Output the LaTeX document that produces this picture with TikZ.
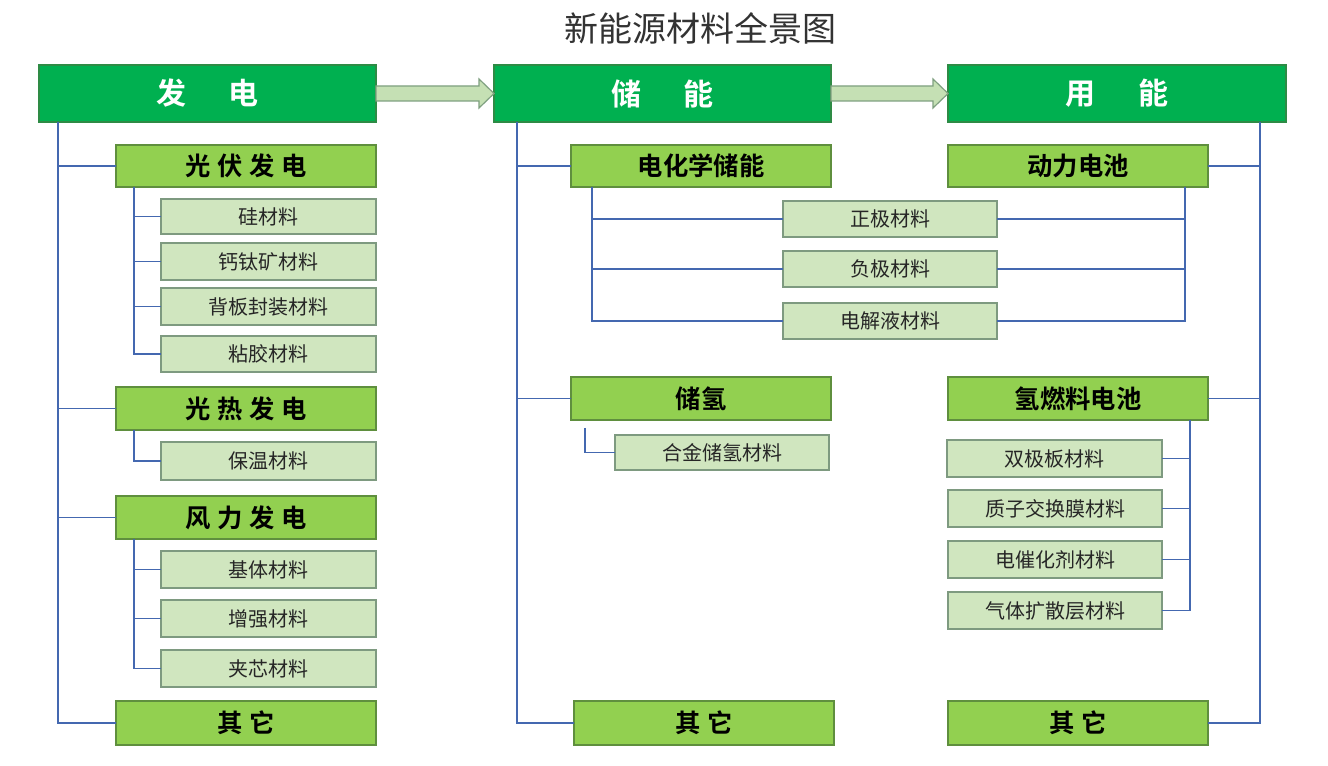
\documentclass[tikz,border=0pt]{standalone}
\usepackage{fontspec}
\setmainfont{Noto Sans CJK SC}[BoldFont={Noto Sans CJK SC Bold}]
\usetikzlibrary{calc}
\definecolor{hdrgreen}{HTML}{00B050}
\definecolor{hdrline}{HTML}{2E8B45}
\definecolor{subgreen}{HTML}{92D050}
\definecolor{subline}{HTML}{5F8F3E}
\definecolor{itemgreen}{HTML}{D0E6BF}
\definecolor{itemline}{HTML}{7E9A80}
\definecolor{connblue}{HTML}{4468B0}
\definecolor{arrowfill}{HTML}{C5E0B4}
\definecolor{arrowline}{HTML}{7FA080}
\definecolor{titlegray}{HTML}{333333}
\newcommand\mkbox[7]{%
  \node[#6, minimum width={(#4-#2)*0.75pt}, minimum height={(#5-#3)*0.75pt}]
    (#1) at ({(#2+#4)/2},{(#3+#5)/2}) {#7};}
\tikzset{
  boxbase/.style={rectangle, inner sep=0pt, outer sep=0pt, line width=0.9pt},
  hdrbox/.style={boxbase, fill=hdrgreen, draw=hdrline, text=white, font=\bfseries\fontsize{22.5pt}{24pt}\selectfont},
  subbox/.style={boxbase, fill=subgreen, draw=subline, text=black, font=\bfseries\fontsize{19pt}{21pt}\selectfont},
  itembox/.style={boxbase, fill=itemgreen, draw=itemline, text=black!85, font=\fontsize{15pt}{17pt}\selectfont},
  conn/.style={draw=connblue, line width=1.1pt},
  blockarrow/.style={fill=arrowfill, draw=arrowline, line width=0.9pt, line join=miter},
  titletext/.style={text=titlegray, font=\fontsize{25.5pt}{28pt}\selectfont}
}
\newcommand\lsp{\kern5pt}
\begin{document}
\begin{tikzpicture}[x=0.75pt,y=-0.75pt]
\useasboundingbox[fill=white] (0,0) rectangle (1328,766);

\node[titletext] (title) at (700,28) {新能源材料全景图};

% headers
\mkbox{fd}{39}{65}{376}{122}{hdrbox}{发\hspace{32pt}电}
\mkbox{cn}{494}{65}{831}{122}{hdrbox}{储\hspace{32pt}能}
\mkbox{yn}{948}{65}{1286}{122}{hdrbox}{用\hspace{32pt}能}

% block arrows
\foreach \a/\b in {fd/cn, cn/yn}{
  \draw[blockarrow] ($(\a.east)+(0,-7.5)$) -- ($(\b.west)+(-15,-7.5)$) -- ($(\b.west)+(-15,-14.5)$)
    -- (\b.west) -- ($(\b.west)+(-15,14.5)$) -- ($(\b.west)+(-15,7.5)$) -- ($(\a.east)+(0,7.5)$) -- cycle;
}

% sub headers
\mkbox{gf}{116}{145}{376}{187}{subbox}{光\lsp 伏\lsp 发\lsp 电}
\mkbox{gr}{116}{387}{376}{430}{subbox}{光\lsp 热\lsp 发\lsp 电}
\mkbox{fl}{116}{496}{376}{539}{subbox}{风\lsp 力\lsp 发\lsp 电}
\mkbox{qt1}{116}{701}{376}{745}{subbox}{其\lsp 它}
\mkbox{dh}{571}{145}{831}{187}{subbox}{电化学储能}
\mkbox{cq}{571}{377}{831}{420}{subbox}{储氢}
\mkbox{qt2}{574}{701}{834}{745}{subbox}{其\lsp 它}
\mkbox{dl}{948}{145}{1208}{187}{subbox}{动力电池}
\mkbox{rl}{948}{377}{1208}{420}{subbox}{氢燃料电池}
\mkbox{qt3}{948}{701}{1208}{745}{subbox}{其\lsp 它}

% items
\mkbox{g1}{161}{199}{376}{234}{itembox}{硅材料}
\mkbox{g2}{161}{243}{376}{280}{itembox}{钙钛矿材料}
\mkbox{g3}{161}{288}{376}{325}{itembox}{背板封装材料}
\mkbox{g4}{161}{336}{376}{372}{itembox}{粘胶材料}
\mkbox{r1}{161}{442}{376}{480}{itembox}{保温材料}
\mkbox{f1}{161}{551}{376}{588}{itembox}{基体材料}
\mkbox{f2}{161}{600}{376}{637}{itembox}{增强材料}
\mkbox{f3}{161}{650}{376}{687}{itembox}{夹芯材料}
\mkbox{d1}{783}{201}{997}{237}{itembox}{正极材料}
\mkbox{d2}{783}{251}{997}{287}{itembox}{负极材料}
\mkbox{d3}{783}{303}{997}{339}{itembox}{电解液材料}
\mkbox{c1}{615}{435}{829}{470}{itembox}{合金储氢材料}
\mkbox{h1}{947}{440}{1162}{477}{itembox}{双极板材料}
\mkbox{h2}{948}{490}{1162}{527}{itembox}{质子交换膜材料}
\mkbox{h3}{948}{541}{1162}{578}{itembox}{电催化剂材料}
\mkbox{h4}{948}{592}{1162}{629}{itembox}{气体扩散层材料}

% trunk coordinates
\coordinate (L0) at (58,122);
\coordinate (LG) at (134,187);
\coordinate (LR) at (134,430);
\coordinate (LF) at (134,539);
\coordinate (M0) at (517,122);
\coordinate (MD) at (592,187);
\coordinate (MC) at (585,428);
\coordinate (R0) at (1260,122);
\coordinate (RD) at (1185,187);
\coordinate (RH) at (1190,420);

% left column
\draw[conn] (L0) |- (qt1.west);
\foreach \n in {gf,gr,fl} \draw[conn] (L0 |- \n.west) -- (\n.west);
\draw[conn] (LG) |- (g4.west);
\foreach \n in {g1,g2,g3} \draw[conn] (LG |- \n.west) -- (\n.west);
\draw[conn] (LR) |- (r1.west);
\draw[conn] (LF) |- (f3.west);
\foreach \n in {f1,f2} \draw[conn] (LF |- \n.west) -- (\n.west);

% middle column
\draw[conn] (M0) |- (qt2.west);
\foreach \n in {dh,cq} \draw[conn] (M0 |- \n.west) -- (\n.west);
\draw[conn] (MD) |- (d3.west);
\foreach \n in {d1,d2} \draw[conn] (MD |- \n.west) -- (\n.west);
\draw[conn] (MC) |- (c1.west);

% right column
\draw[conn] (R0) |- (qt3.east);
\foreach \n in {dl,rl} \draw[conn] (R0 |- \n.east) -- (\n.east);
\draw[conn] (RD) |- (d3.east);
\foreach \n in {d1,d2} \draw[conn] (RD |- \n.east) -- (\n.east);
\draw[conn] (RH) |- (h4.east);
\foreach \n in {h1,h2,h3} \draw[conn] (RH |- \n.east) -- (\n.east);
\end{tikzpicture}
\end{document}
